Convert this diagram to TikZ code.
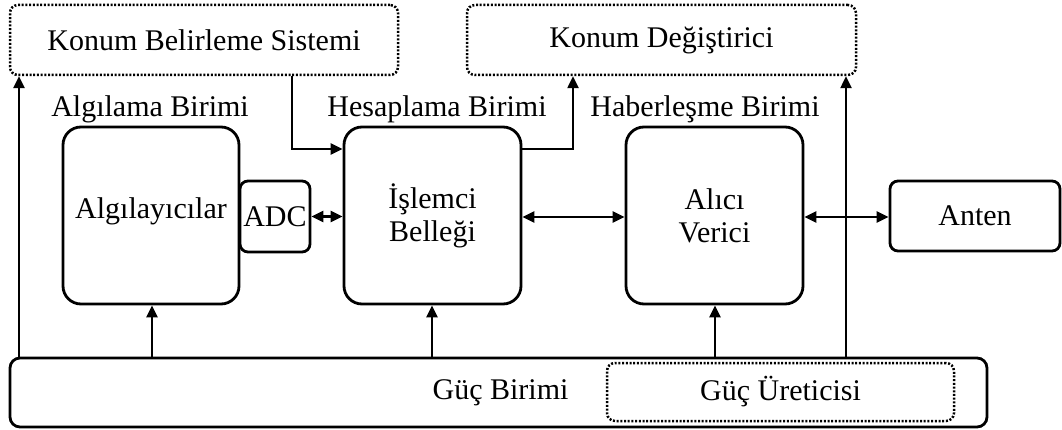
\documentclass[tikz,border=0pt]{standalone}
\usepackage{fontspec}
\setmainfont{Liberation Serif}
\usetikzlibrary{arrows.meta}
\begin{document}
\begin{tikzpicture}[x=1pt,y=-1pt,
  font=\fontsize{30}{33}\selectfont,
  unitbox/.style={draw, line width=2.8pt, rounded corners=18pt, inner sep=0pt, align=center},
  smallbox/.style={draw, line width=2.8pt, rounded corners=8pt, inner sep=0pt, align=center},
  dotbox/.style={draw, line width=2.5pt, dash pattern=on 2pt off 1.7pt, rounded corners=8pt, inner sep=0pt},
  title/.style={inner sep=0pt, anchor=base},
  tip/.tip={Triangle[length=12pt,width=11pt]},
  conn/.style={line width=2.5pt, -tip},
  biconn/.style={line width=2.5pt, tip-tip},
]
\useasboundingbox (0,0) rectangle (1062,430);

% external subsystems (dotted)
\node[dotbox, minimum width=388pt, minimum height=70pt] (kbs) at (204,40)
  {Konum Belirleme Sistemi\hspace{26pt}};
\node[dotbox, minimum width=389pt, minimum height=70pt] (kd) at (661.5,40)
  {Konum Değiştirici\hspace{30pt}};

% unit titles
\node[title] (talg) at (150,117) {Algılama Birimi};
\node[title] (thes) at (437,117) {Hesaplama Birimi};
\node[title] (thab) at (705,117) {Haberleşme Birimi};

% main units
\node[unitbox, minimum width=176pt, minimum height=177pt, text height=0.69em, text depth=0.1em]
  (alg) at (151,215.5) {Algılayıcılar};
\node[smallbox, minimum width=70pt, minimum height=71pt] (adc) at (275,216.5) {ADC};
\node[unitbox, minimum width=177pt, minimum height=177pt] (isl) at (432.5,215.5) {İşlemci\\Belleği};
\node[unitbox, minimum width=177pt, minimum height=177pt] (alc) at (714.5,215.5) {Alıcı\\Verici};
\node[smallbox, minimum width=170pt, minimum height=70pt] (ant) at (975,216) {Anten};

% power unit
\node[smallbox, rounded corners=10pt, minimum width=977pt, minimum height=69pt] (pw) at (498.5,392.5)
  {\hspace{4pt}Güç Birimi};
\node[dotbox, minimum width=347pt, minimum height=58pt] (gu) at (780.5,392)
  {Güç Üreticisi\hspace{10pt}};

% power distribution
\draw[conn] (19,0 |- pw.north) -- (19,0 |- kbs.south);
\draw[conn] (152,0 |- pw.north) -- (152,0 |- alg.south);
\draw[conn] (432,0 |- pw.north) -- (432,0 |- isl.south);
\draw[conn] (715,0 |- pw.north) -- (715,0 |- alc.south);
\draw[conn] (846,0 |- pw.north) -- (846,0 |- kd.south);

% position links
\draw[conn] (292,0 |- kbs.south) |- (isl.west |- 0,149);
\draw[conn] (isl.east |- 0,149) -| (573,0 |- kd.south);

% data links
\draw[biconn] (adc.east) -- (adc.east -| isl.west);
\draw[biconn] (isl.east |- 0,217) -- (alc.west |- 0,217);
\draw[biconn] (alc.east |- 0,217) -- (ant.west |- 0,217);
\end{tikzpicture}
\end{document}
